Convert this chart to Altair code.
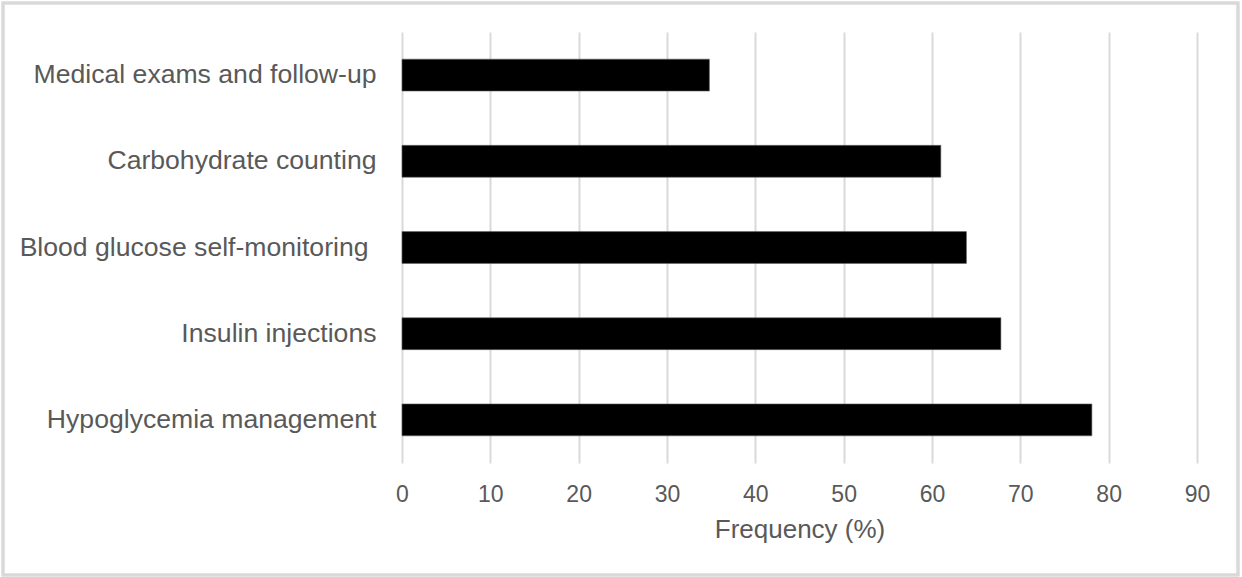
import altair as alt
import pandas as pd

categories = [
    "Medical exams and follow-up",
    "Carbohydrate counting",
    "Blood glucose self-monitoring",
    "Insulin injections",
    "Hypoglycemia management",
]
frequency = [34.8, 61.0, 63.9, 67.8, 78.1]
tick_values = [0, 10, 20, 30, 40, 50, 60, 70, 80, 90]

df = pd.DataFrame({"category": categories, "frequency": frequency})

W, H = 795, 431
FONT = "Liberation Sans"
GRAY = "#595959"

bars = alt.Chart(df).mark_bar(color="#000000", stroke="#666666", strokeWidth=0.6).encode(
    x=alt.X(
        "frequency:Q",
        scale=alt.Scale(domain=[0, 90], nice=False, zero=True),
        axis=alt.Axis(
            values=tick_values,
            title="Frequency (%)",
            grid=True,
            gridColor="#d9d9d9",
            gridWidth=2,
            ticks=False,
            domain=False,
            labelFlush=False,
            labelFont=FONT,
            labelFontSize=23,
            labelColor=GRAY,
            labelPadding=20,
            titleFont=FONT,
            titleFontSize=26,
            titleFontWeight="normal",
            titleColor=GRAY,
            titlePadding=10,
        ),
    ),
    y=alt.Y(
        "category:N",
        sort=categories,
        scale=alt.Scale(paddingInner=0.63, paddingOuter=0.315),
        axis=alt.Axis(
            title=None,
            ticks=False,
            domain=False,
            grid=False,
            labelFont=FONT,
            labelFontSize=26.6,
            labelColor=GRAY,
            labelPadding={
                "condition": {
                    "test": "datum.value == 'Blood glucose self-monitoring'",
                    "value": 34,
                },
                "value": 26,
            },
            labelLimit=500,
        ),
    ),
)

frame = alt.Chart(df).mark_rect(
    fill=None, stroke="#d9d9d9", strokeWidth=2.5
).encode(
    x=alt.value(-399),
    x2=alt.value(W + 41),
    y=alt.value(-29),
    y2=alt.value(H + 112),
)

chart = alt.layer(frame, bars).properties(
    width=W,
    height=H,
    autosize=alt.AutoSizeParams(type="none"),
    padding={"left": 402, "top": 32, "right": 45, "bottom": 114},
).configure(background="#ffffff").configure_view(stroke=None)

chart.save("out.html", embed_options={"renderer": "svg", "actions": False})
